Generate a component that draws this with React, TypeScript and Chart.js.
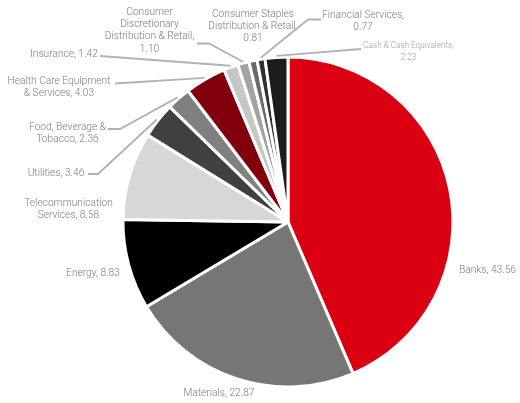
import React, { useEffect, useRef } from "react";
import { Chart, registerables } from "chart.js";

Chart.register(...registerables);

const categories = [
  "Banks",
  "Materials",
  "Energy",
  "Telecommunication Services",
  "Utilities",
  "Food, Beverage & Tobacco",
  "Health Care Equipment & Services",
  "Insurance",
  "Consumer Discretionary Distribution & Retail",
  "Consumer Staples Distribution & Retail",
  "Financial Services",
  "Cash & Cash Equivalents",
];

const values = [43.56, 22.87, 8.83, 8.58, 3.46, 2.36, 4.03, 1.42, 1.1, 0.81, 0.77, 2.23];

const sliceColors = [
  "#db0011",
  "#767676",
  "#000000",
  "#d7d7d5",
  "#404040",
  "#808080",
  "#82000c",
  "#c6c6c4",
  "#a3a3a3",
  "#6a6a6a",
  "#2e2e2e",
  "#1c1c1a",
];

// how each label's name is wrapped; the value is appended by code
const nameLines: string[][] = [
  ["Banks,"],
  ["Materials,"],
  ["Energy,"],
  ["Telecommunication", "Services,"],
  ["Utilities,"],
  ["Food, Beverage &", "Tobacco,"],
  ["Health Care Equipment", "& Services,"],
  ["Insurance,"],
  ["Consumer", "Discretionary", "Distribution & Retail,"],
  ["Consumer Staples", "Distribution & Retail,"],
  ["Financial Services,"],
  ["Cash & Cash Equivalents,"],
];
const valueOnOwnLine = [false, false, false, false, false, false, false, false, true, true, true, true];

// label layout (text centre of first line), leader start and elbow
const labelPos: [number, number][] = [
  [487.5, 270],
  [219, 393],
  [93, 273],
  [68.5, 203],
  [56, 173],
  [67.5, 127.5],
  [59, 81.5],
  [64, 54],
  [149.5, 12.5],
  [253, 14.5],
  [363, 15],
  [408.5, 46],
];
const leaderStart: ([number, number] | null)[] = [
  null, null, null, null,
  [88, 174],
  [108, 129],
  [115, 83.5],
  [100, 56],
  [197, 43.5],
  null,
  [321, 19.5],
  [361, 49],
];
const leaderElbow: ([number, number] | null)[] = [
  null, null, null, null,
  [98, 174],
  [120, 129],
  null,
  null,
  [209, 43.5],
  null,
  [308, 19.5],
  null,
];
const smallLabel = [false, false, false, false, false, false, false, false, false, false, false, true];

const labelPlugin = {
  id: "outLabels",
  afterDatasetsDraw(chart: any) {
    const ctx = chart.ctx as CanvasRenderingContext2D;
    const meta = chart.getDatasetMeta(0);
    ctx.save();
    meta.data.forEach((arc: any, i: number) => {
      const { x, y, startAngle, endAngle, outerRadius } = arc.getProps(
        ["x", "y", "startAngle", "endAngle", "outerRadius"],
        true
      );
      const mid = (startAngle + endAngle) / 2;
      const r = outerRadius + 1.5;
      const ex = x + Math.cos(mid) * r;
      const ey = y + Math.sin(mid) * r;
      const s = leaderStart[i];
      if (s) {
        ctx.strokeStyle = "#b2b2b2";
        ctx.lineWidth = 1.8;
        ctx.beginPath();
        ctx.moveTo(s[0], s[1]);
        const e = leaderElbow[i];
        if (e) ctx.lineTo(e[0], e[1]);
        ctx.lineTo(ex, ey);
        ctx.stroke();
      }
      const val = values[i].toFixed(2);
      const lines = nameLines[i].slice();
      if (valueOnOwnLine[i]) lines.push(val);
      else lines[lines.length - 1] = lines[lines.length - 1] + " " + val;
      const small = smallLabel[i];
      ctx.font = `300 ${small ? 8.2 : 10.2}px Roboto, "Noto Sans", sans-serif`;
      ctx.fillStyle = small ? "#a0a0a0" : "#7c7c7c";
      ctx.textAlign = "center";
      ctx.textBaseline = "middle";
      const [lx, ly] = labelPos[i];
      lines.forEach((t, k) => ctx.fillText(t, lx, ly + k * 12.2));
    });
    ctx.restore();
  },
};

export default function App() {
  const ref = useRef<HTMLCanvasElement | null>(null);
  useEffect(() => {
    if (!ref.current) return;
    const chart = new Chart(ref.current, {
      type: "pie",
      data: {
        labels: categories,
        datasets: [
          {
            data: values,
            backgroundColor: sliceColors,
            borderColor: "#ffffff",
            borderWidth: 3,
            hoverOffset: 0,
          },
        ],
      },
      options: {
        animation: false,
        responsive: false,
        devicePixelRatio: 1,
        radius: 165,
        layout: { padding: { left: 100, right: 44, top: 50, bottom: 9 } },
        plugins: {
          legend: { display: false },
          tooltip: { enabled: false },
        },
        events: [],
      },
      plugins: [labelPlugin],
    });
    return () => chart.destroy();
  }, []);
  return (
    <div style={{ position: "fixed", left: 0, top: 0, width: 520, height: 403, background: "#fff" }}>
      <canvas ref={ref} width={520} height={403} />
    </div>
  );
}
